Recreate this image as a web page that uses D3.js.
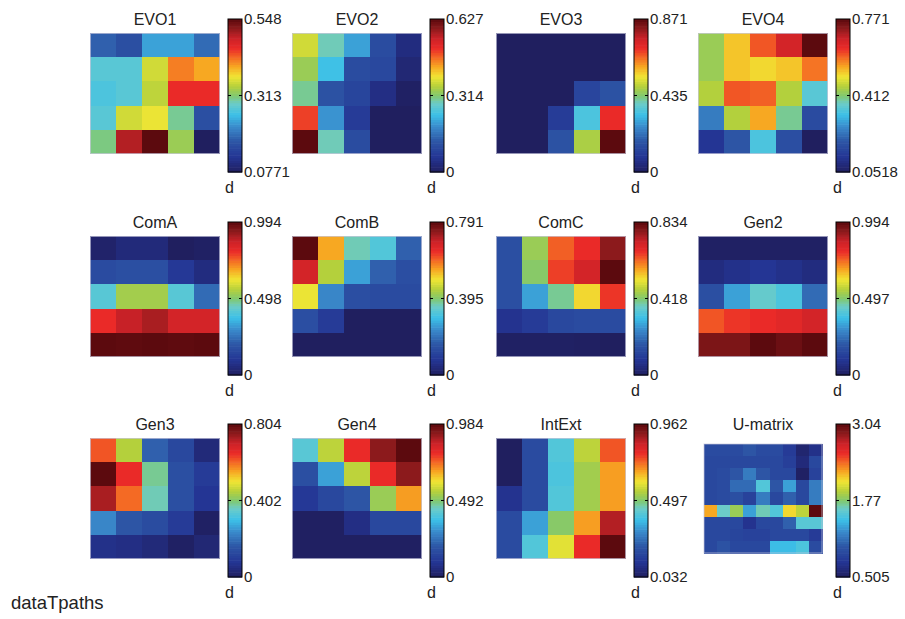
<!DOCTYPE html>
<html>
<head>
<meta charset="utf-8">
<script src="https://cdn.jsdelivr.net/npm/d3@7"></script>
<style>
  body { margin: 0; background: #fff; }
  svg { font-family: 'Liberation Sans', Arial, sans-serif; }
</style>
</head>
<body>
<svg id="chart" width="905" height="619"></svg>
<script>
// component planes, values (row by row, top to bottom)
const titles = ['EVO1', 'EVO2', 'EVO3', 'EVO4', 'ComA', 'ComB', 'ComC', 'Gen2', 'Gen3', 'Gen4', 'IntExt', 'U-matrix'];
const mins = [0.0771, 0, 0, 0.0518, 0, 0, 0, 0, 0, 0, 0.032, 0.505];
const maxs = [0.548, 0.627, 0.871, 0.771, 0.994, 0.791, 0.834, 0.994, 0.804, 0.984, 0.962, 3.04];
const maxLabels = ['0.548', '0.627', '0.871', '0.771', '0.994', '0.791', '0.834', '0.994', '0.804', '0.984', '0.962', '3.04'];
const midLabels = ['0.313', '0.314', '0.435', '0.412', '0.498', '0.395', '0.418', '0.497', '0.402', '0.492', '0.497', '1.77'];
const minLabels = ['0.0771', '0', '0', '0.0518', '0', '0', '0', '0', '0', '0', '0.032', '0.505'];
const unitLabel = 'd';
const datasetLabel = 'dataTpaths';

const evo1 = [
  [0.181, 0.162, 0.233, 0.233, 0.190],
  [0.275, 0.275, 0.355, 0.421, 0.402],
  [0.266, 0.275, 0.346, 0.459, 0.459],
  [0.275, 0.355, 0.369, 0.303, 0.162],
  [0.308, 0.501, 0.548, 0.327, 0.0771],
];
const evo2 = [
  [0.370, 0.288, 0.207, 0.107, 0.038],
  [0.332, 0.238, 0.107, 0.100, 0.025],
  [0.301, 0.119, 0.094, 0.044, 0.006],
  [0.495, 0.194, 0.075, 0, 0],
  [0.627, 0.288, 0.107, 0, 0],
];
const evo3 = [
  [0, 0, 0, 0, 0],
  [0, 0, 0, 0, 0],
  [0, 0, 0, 0.131, 0.165],
  [0, 0, 0.105, 0.348, 0.706],
  [0, 0, 0.165, 0.479, 0.871],
];
const evo4 = [
  [0.433, 0.526, 0.605, 0.670, 0.771],
  [0.433, 0.526, 0.512, 0.526, 0.584],
  [0.454, 0.605, 0.598, 0.454, 0.354],
  [0.246, 0.454, 0.548, 0.397, 0.174],
  [0.124, 0.196, 0.339, 0.181, 0.0518],
];
const comA = [
  [0.020, 0.050, 0.050, 0, 0.010],
  [0.169, 0.179, 0.179, 0.109, 0.060],
  [0.417, 0.537, 0.537, 0.417, 0.239],
  [0.805, 0.875, 0.905, 0.855, 0.855],
  [0.994, 0.990, 0.994, 0.990, 0.994],
];
const comB = [
  [0.791, 0.546, 0.364, 0.324, 0.174],
  [0.680, 0.443, 0.261, 0.174, 0.142],
  [0.490, 0.229, 0.142, 0.134, 0.134],
  [0.142, 0.095, 0, 0, 0],
  [0, 0, 0, 0, 0],
];
const comC = [
  [0.150, 0.442, 0.634, 0.676, 0.784],
  [0.150, 0.425, 0.659, 0.717, 0.834],
  [0.150, 0.275, 0.400, 0.534, 0.667],
  [0.075, 0.100, 0.133, 0.142, 0.142],
  [0.008, 0.008, 0.008, 0.004, 0],
];
const gen2 = [
  [0.010, 0.010, 0.010, 0.010, 0.010],
  [0.060, 0.080, 0.099, 0.080, 0.060],
  [0.179, 0.328, 0.437, 0.398, 0.239],
  [0.765, 0.795, 0.805, 0.825, 0.855],
  [0.954, 0.954, 0.994, 0.974, 0.994],
];
const gen3 = [
  [0.619, 0.450, 0.177, 0.129, 0.040],
  [0.804, 0.651, 0.386, 0.145, 0.096],
  [0.732, 0.603, 0.370, 0.145, 0.080],
  [0.233, 0.161, 0.137, 0.096, 0.008],
  [0.064, 0.056, 0.040, 0.008, 0.032],
];
const gen4 = [
  [0.413, 0.561, 0.797, 0.925, 0.984],
  [0.177, 0.325, 0.561, 0.797, 0.925],
  [0.108, 0.157, 0.197, 0.522, 0.689],
  [0.005, 0.005, 0.069, 0.157, 0.157],
  [0.005, 0.005, 0.005, 0.005, 0.005],
];
const intExt = [
  [0.032, 0.190, 0.413, 0.562, 0.748],
  [0.032, 0.190, 0.404, 0.534, 0.683],
  [0.116, 0.190, 0.413, 0.534, 0.683],
  [0.190, 0.339, 0.506, 0.683, 0.869],
  [0.190, 0.413, 0.599, 0.785, 0.962],
];
const uMatrix = [
  [0.936, 0.936, 0.936, 1.012, 0.936, 0.936, 0.809, 0.581, 0.708],
  [0.911, 0.911, 0.911, 0.911, 0.911, 0.911, 0.835, 0.632, 0.911],
  [0.911, 0.936, 1.012, 1.190, 1.012, 0.911, 0.911, 0.530, 0.860],
  [0.911, 0.936, 1.113, 1.113, 1.544, 1.012, 1.342, 0.911, 1.190],
  [0.911, 0.936, 0.961, 0.860, 1.190, 0.911, 1.063, 0.911, 1.190],
  [2.254, 1.646, 1.849, 1.342, 1.671, 1.544, 2.127, 1.950, 3.040],
  [0.911, 0.911, 0.911, 0.733, 0.911, 0.911, 1.063, 1.570, 1.570],
  [0.911, 0.911, 0.885, 0.860, 0.860, 0.911, 0.911, 0.911, 0.809],
  [0.911, 0.987, 0.911, 0.911, 0.911, 1.443, 1.443, 1.519, 0.936],
];
const planes = [evo1, evo2, evo3, evo4, comA, comB, comC, gen2, gen3, gen4, intExt, uMatrix];

// jet-like colormap, slightly muted like the printed figure
const jetStops = [0, 0.1, 0.2, 0.3, 0.375, 0.45, 0.5, 0.56, 0.625, 0.69, 0.75, 0.81, 0.875, 0.94, 1];
const jetColors = ['#201f5f', '#243594', '#2d55a5', '#3a8ccc', '#3cc0e8', '#6cccc8', '#80c870', '#b4d03c',
  '#f0e634', '#f7a822', '#f46a24', '#ea2a28', '#cc2228', '#8c1a1c', '#5c0a0e'];
const jet = d3.scaleLinear().domain(jetStops).range(jetColors).interpolate(d3.interpolateRgb).clamp(true);

const svg = d3.select('#chart');
const colX = [90, 292, 496, 698];
const rowY = [33, 236, 438];
const mapW = 130;
const mapH = 121;
const cbGap = 138;
const cbW = 14;
const nLevels = 64;

planes.forEach((grid, i) => {
  const col = i % 4;
  const row = Math.floor(i / 4);
  const g = svg.append('g');
  const nRows = grid.length;
  const nCols = grid[0].length;

  // the U-matrix is drawn a little smaller, centred in the same slot
  const w = nCols > 5 ? 119 : mapW;
  const h = nRows > 5 ? 110 : mapH;
  const x0 = colX[col] + (mapW - w) / 2;
  const y0 = rowY[row] + (mapH - h) / 2;

  const x = d3.scaleBand().domain(d3.range(nCols)).range([x0, x0 + w]);
  const y = d3.scaleBand().domain(d3.range(nRows)).range([y0, y0 + h]);
  const t = d3.scaleLinear().domain([mins[i], maxs[i]]).range([0, 1]);
  const color = (v) => jet(t(v));

  const cells = grid.flatMap((r, ri) => r.map((v, ci) => ({ r: ri, c: ci, v })));
  g.selectAll('rect.cell')
    .data(cells)
    .enter()
    .append('rect')
    .attr('class', 'cell')
    .attr('x', (d) => Math.round(x(d.c)))
    .attr('y', (d) => Math.round(y(d.r)))
    .attr('width', (d) => Math.round(x(d.c) + x.bandwidth()) - Math.round(x(d.c)))
    .attr('height', (d) => Math.round(y(d.r) + y.bandwidth()) - Math.round(y(d.r)))
    .attr('shape-rendering', 'crispEdges')
    .attr('fill', (d) => color(d.v));

  g.append('rect')
    .attr('x', x0 + 0.5)
    .attr('y', y0 + 0.5)
    .attr('width', w - 1)
    .attr('height', h - 1)
    .attr('fill', 'none')
    .attr('stroke', '#c8c8dc')
    .attr('stroke-opacity', 0.7)
    .attr('stroke-width', 1);

  g.append('text')
    .attr('x', colX[col] + mapW / 2)
    .attr('y', rowY[row] - 8)
    .attr('text-anchor', 'middle')
    .attr('font-size', 16)
    .attr('fill', '#222')
    .text(titles[i]);

  // colorbar
  const cbX = colX[col] + cbGap;
  const cbTop = rowY[row] - 14;
  const cbBot = rowY[row] + mapH + 18;
  const cy = d3.scaleLinear().domain([mins[i], maxs[i]]).range([cbBot, cbTop]);
  const levels = d3.range(nLevels).map((k) => mins[i] + ((k + 0.5) / nLevels) * (maxs[i] - mins[i]));
  const step = (cbBot - cbTop) / nLevels;

  g.selectAll('rect.lvl')
    .data(levels)
    .enter()
    .append('rect')
    .attr('class', 'lvl')
    .attr('x', cbX)
    .attr('y', (d) => cy(d) - step / 2)
    .attr('width', cbW)
    .attr('height', step + 0.6)
    .attr('fill', (d) => color(d));

  g.append('rect')
    .attr('x', cbX)
    .attr('y', cbTop)
    .attr('width', cbW)
    .attr('height', cbBot - cbTop)
    .attr('fill', 'none')
    .attr('stroke', '#000')
    .attr('stroke-width', 1);

  const mid = (mins[i] + maxs[i]) / 2;
  const ticks = [
    { v: maxs[i], label: maxLabels[i] },
    { v: mid, label: midLabels[i] },
    { v: mins[i], label: minLabels[i] },
  ];

  g.selectAll('line.tk')
    .data([cbX, cbX + cbW - 3])
    .enter()
    .append('line')
    .attr('class', 'tk')
    .attr('x1', (d) => d)
    .attr('x2', (d) => d + 3)
    .attr('y1', cy(mid))
    .attr('y2', cy(mid))
    .attr('stroke', '#000');

  g.selectAll('text.tl')
    .data(ticks)
    .enter()
    .append('text')
    .attr('class', 'tl')
    .attr('x', cbX + cbW + 2)
    .attr('y', (d) => cy(d.v))
    .attr('dy', '0.36em')
    .attr('font-size', 15)
    .attr('fill', '#222')
    .text((d) => d.label);

  g.append('text')
    .attr('x', cbX - 3)
    .attr('y', cbBot + 21)
    .attr('font-size', 16)
    .attr('fill', '#222')
    .text(unitLabel);
});

svg.append('text')
  .attr('x', 11)
  .attr('y', 609)
  .attr('font-size', 18.5)
  .attr('fill', '#222')
  .text(datasetLabel);
</script>
</body>
</html>
